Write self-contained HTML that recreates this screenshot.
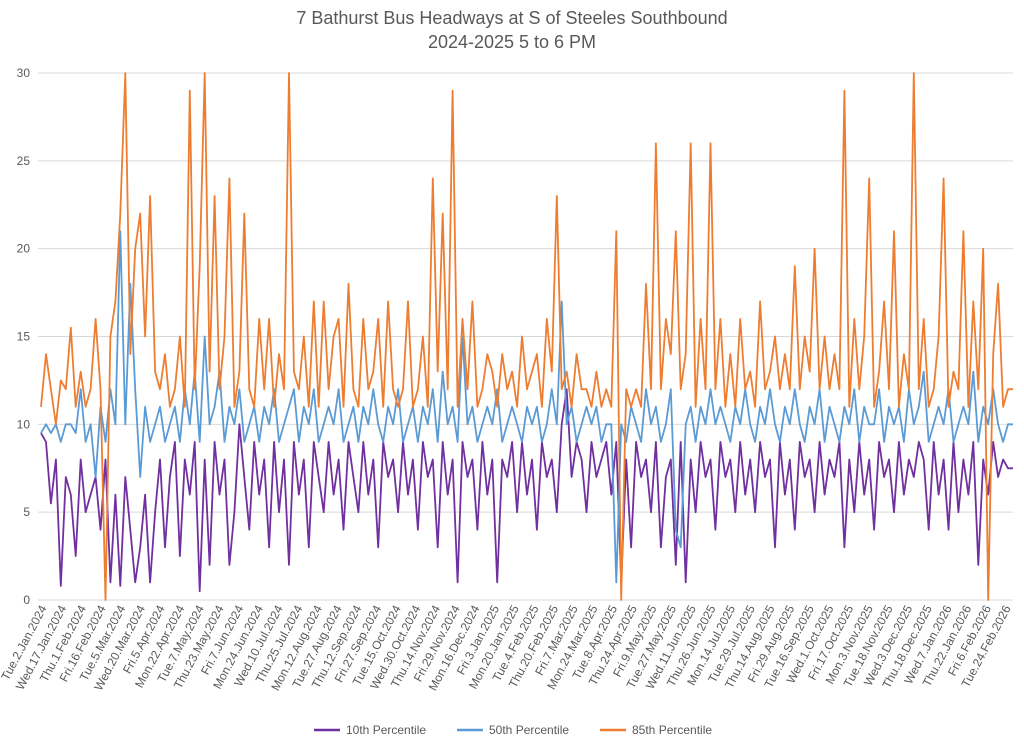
<!DOCTYPE html>
<html><head><meta charset="utf-8"><style>
body{margin:0;background:#fff;font-family:"Liberation Sans",sans-serif}
svg text{font-family:"Liberation Sans",sans-serif}
</style></head><body>
<svg id="chart" width="1024" height="741" viewBox="0 0 1024 741"></svg>
<script>
const yTicks=[0,5,10,15,20,25,30];
const xLabels=["Tue.2.Jan.2024","Wed.17.Jan.2024","Thu.1.Feb.2024","Fri.16.Feb.2024","Tue.5.Mar.2024","Wed.20.Mar.2024","Fri.5.Apr.2024","Mon.22.Apr.2024","Tue.7.May.2024","Thu.23.May.2024","Fri.7.Jun.2024","Mon.24.Jun.2024","Wed.10.Jul.2024","Thu.25.Jul.2024","Mon.12.Aug.2024","Tue.27.Aug.2024","Thu.12.Sep.2024","Fri.27.Sep.2024","Tue.15.Oct.2024","Wed.30.Oct.2024","Thu.14.Nov.2024","Fri.29.Nov.2024","Mon.16.Dec.2024","Fri.3.Jan.2025","Mon.20.Jan.2025","Tue.4.Feb.2025","Thu.20.Feb.2025","Fri.7.Mar.2025","Mon.24.Mar.2025","Tue.8.Apr.2025","Thu.24.Apr.2025","Fri.9.May.2025","Tue.27.May.2025","Wed.11.Jun.2025","Thu.26.Jun.2025","Mon.14.Jul.2025","Tue.29.Jul.2025","Thu.14.Aug.2025","Fri.29.Aug.2025","Tue.16.Sep.2025","Wed.1.Oct.2025","Fri.17.Oct.2025","Mon.3.Nov.2025","Tue.18.Nov.2025","Wed.3.Dec.2025","Thu.18.Dec.2025","Wed.7.Jan.2026","Thu.22.Jan.2026","Fri.6.Feb.2026","Tue.24.Feb.2026"];
const p85=[11,14,12,10, 12.5,12,15.5,11, 13,11,12,16, 12,0,15,17, 22,30,14,20, 22,15,23,13, 12,14,11,12, 15,11,29,12, 19,30,13,23, 12,15,24,11, 13,22,12,11, 16,12,16,11, 14,12,30,13, 12,15,11,17, 11,17,12,15, 16,11,18,12, 11,16,12,13, 16,11,17,12, 11,12,17,11, 12,15,11,24, 13,22,12,29, 11,16,12,17, 11,12,14,13, 11,14,12,13, 11,15,12,13, 14,11,16,13, 23,12,13,11, 14,12,12,11, 13,11,12,11, 21,0,12,11, 12,11,18,12, 26,12,16,14, 21,12,14,26, 11,16,12,26, 12,16,11,14, 11,16,12,13, 11,17,12,13, 15,12,14,12, 19,12,15,13, 20,12,15,12, 14,12,29,11, 16,12,15,24, 11,13,17,12, 21,11,14,12, 30,12,16,11, 12,15,24,11, 13,12,21,11, 17,12,20,0, 14,18,11,12, 12];
const p50=[9.5,10,9.5,10, 9,10,10,9.5, 12,9,10,7, 11,9,12,10, 21,10,18,12, 7,11,9,10, 11,9,10,11, 9,12,10,13, 9,15,10,11, 13,9,11,10, 12,9,10,11, 9,11,10,12, 9,10,11,12, 9,11,10,12, 9,10,11,10, 12,9,10,11, 9,11,10,12, 10,9,11,10, 12,9,10,11, 9,11,10,12, 9,13,10,11, 9,15,10,11, 9,10,11,10, 12,9,10,11, 10,9,11,10, 11,9,10,12, 10,17,10,11, 9,10,11,10, 11,9,10,10, 1,10,9,11, 10,9,12,10, 11,9,10,12, 4,3,10,11, 9,11,10,12, 10,11,10,9, 11,10,12,10, 9,11,10,12, 10,9,11,10, 12,10,9,11, 10,12,9,11, 10,9,11,10, 12,9,11,10, 10,12,9,11, 10,11,9,12, 10,11,13,9, 10,11,10,12, 9,10,11,10, 13,9,11,10, 12,10,9,10, 10];
const p10=[9.5,9,5.5,8, 0.8,7,6,2.5, 8,5,6,7, 4,8,1,6, 0.8,7,4,1, 3,6,1,5, 8,3,7,9, 2.5,8,6,9, 0.5,8,2,9, 6,8,2,5, 10,7,4,9, 6,8,3,9, 5,8,2,9, 6,8,3,9, 7,5,9,6, 8,4,9,7, 5,9,6,8, 3,9,7,8, 5,9,6,8, 4,9,7,8, 3,9,6,8, 1,9,7,8, 4,9,6,8, 1,8,7,9, 5,9,6,8, 4,9,7,8, 5,10,12,7, 9,8,5,9, 7,8,9,6, 9,1,8,3, 9,7,8,5, 9,3,7,8, 2,9,1,8, 5,9,7,8, 4,9,7,8, 5,9,6,8, 5,9,7,8, 3,9,6,8, 4,9,7,8, 5,9,6,8, 7,9,3,8, 5,9,6,8, 4,9,7,8, 5,9,6,8, 7,9,8,4, 9,6,8,4, 9,5,8,6, 9,2,8,6, 9,7,8,7.5, 7.5];
const NS="http://www.w3.org/2000/svg",svg=document.getElementById('chart');
const X0=38,X1=1013,Y0=600,Y1=73;
const y=v=>Y0-(v/30)*(Y0-Y1);
function el(t,a,p){const e=document.createElementNS(NS,t);for(const k in a)e.setAttribute(k,a[k]);(p||svg).appendChild(e);return e;}
let t=el('text',{x:512,y:24,'text-anchor':'middle','font-size':18,fill:'#595959'});t.textContent='7 Bathurst Bus Headways at S of Steeles Southbound';

t=el('text',{x:512,y:48,'text-anchor':'middle','font-size':18,fill:'#595959'});t.textContent='2024-2025 5 to 6 PM';

yTicks.forEach(v=>{const g=el('line',{x1:X0,x2:X1,y1:y(v),y2:y(v),stroke:'#d9d9d9','stroke-width':1});

const l=el('text',{x:30,y:y(v)+4,'text-anchor':'end','font-size':12,fill:'#595959'});l.textContent=v;
});
const lx=i=>42+i*(1006-42)/(xLabels.length-1);
xLabels.forEach((s,i)=>{const l=el('text',{x:0,y:0,'text-anchor':'end','font-size':12,fill:'#595959',transform:`translate(${lx(i)+5},${608}) rotate(-62)`});l.textContent=s;
});
function series(arr,col,name){const pts=arr.map((v,i)=>(X0+3+i*(X1-X0-3)/(arr.length-1)).toFixed(1)+','+y(v).toFixed(1)).join(' ');
const p=el('polyline',{points:pts,fill:'none',stroke:col,'stroke-width':1.8,'stroke-linejoin':'round'});
}
series(p10,'#7030a0','line-10th-percentile');
series(p50,'#5b9bd5','line-50th-percentile');
series(p85,'#ed7d31','line-85th-percentile');
[['10th Percentile','#7030a0',314],['50th Percentile','#5b9bd5',457],['85th Percentile','#ed7d31',600]].forEach(([s,c,x])=>{
const g=el('g',{});
el('line',{x1:x,x2:x+26,y1:730,y2:730,stroke:c,'stroke-width':2.5},g);
const l=el('text',{x:x+32,y:734,'font-size':12,fill:'#595959'},g);l.textContent=s;});
</script>
</body></html>
